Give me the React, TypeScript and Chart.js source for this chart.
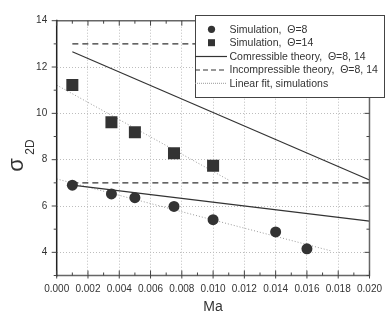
import React, { useEffect, useRef } from "react";
import { Chart, registerables } from "chart.js";
Chart.register(...registerables);

// ---- data ----
const maSim8 = [0.001, 0.0035, 0.005, 0.0075, 0.01, 0.014, 0.016];
const sigmaSim8 = [6.9, 6.52, 6.36, 5.98, 5.41, 4.88, 4.15];
const maSim14 = [0.001, 0.0035, 0.005, 0.0075, 0.01];
const sigmaSim14 = [11.22, 9.62, 9.18, 8.28, 7.74];
const maTheory = [0.001, 0.02];
const compTheory8 = [6.9, 5.35];
const compTheory14 = [12.66, 7.12];
const incompTheory8 = [7, 7];
const incompTheory14 = [13, 13];
const maFit8 = [0, 0.0175];
const fit8 = [7.17, 4.07];
const maFit14 = [0, 0.011];
const fit14 = [11.22, 7.12];
const xTicks = [0, 0.002, 0.004, 0.006, 0.008, 0.01, 0.012, 0.014, 0.016, 0.018, 0.02];
const xMinor = [0.001, 0.003, 0.005, 0.007, 0.009, 0.011, 0.013, 0.015, 0.017, 0.019];
const yTicks = [4, 6, 8, 10, 12, 14];
const yMinor = [3, 5, 7, 9, 11, 13];
const legendLabels = [
  "Simulation,  \u0398=8",
  "Simulation,  \u0398=14",
  "Comressible theory,  \u0398=8, 14",
  "Incompressible theory,  \u0398=8, 14",
  "Linear fit, simulations",
];
const xTitle = "Ma";
const yTitleMain = "\u03c3";
const yTitleSub = "2D";

const FONT = "'Liberation Sans', Arial, sans-serif";
const DARK = "#333";

const pts = (xs: number[], ys: number[]) => xs.map((x, i) => ({ x, y: ys[i] }));

const decorPlugin = {
  id: "decor",
  afterDraw(chart: any) {
    const ctx = chart.ctx as CanvasRenderingContext2D;
    const { left, right, top, bottom } = chart.chartArea;
    const xs = chart.scales.x;
    const ys = chart.scales.y;
    ctx.save();
    // frame
    ctx.lineWidth = 1.5;
    ctx.strokeStyle = "#666";
    ctx.beginPath();
    ctx.moveTo(left, top);
    ctx.lineTo(right, top);
    ctx.lineTo(right, bottom);
    ctx.lineTo(left, bottom);
    ctx.stroke();
    ctx.strokeStyle = "#222";
    ctx.beginPath();
    ctx.moveTo(left, top - 1);
    ctx.lineTo(left, bottom + 1);
    ctx.stroke();
    // ticks
    ctx.lineWidth = 1;
    ctx.strokeStyle = "#444";
    ctx.beginPath();
    xTicks.forEach((v) => {
      const p = xs.getPixelForValue(v);
      ctx.moveTo(p, bottom + 3);
      ctx.lineTo(p, bottom - 5);
      ctx.moveTo(p, top);
      ctx.lineTo(p, top + 5);
    });
    xMinor.forEach((v) => {
      const p = xs.getPixelForValue(v);
      ctx.moveTo(p, bottom);
      ctx.lineTo(p, bottom - 3);
      ctx.moveTo(p, top);
      ctx.lineTo(p, top + 3);
    });
    yTicks.forEach((v) => {
      const p = ys.getPixelForValue(v);
      ctx.moveTo(left - 5, p);
      ctx.lineTo(left, p);
      ctx.moveTo(right, p);
      ctx.lineTo(right - 5, p);
    });
    yMinor.forEach((v) => {
      const p = ys.getPixelForValue(v);
      ctx.moveTo(left - 3, p);
      ctx.lineTo(left, p);
      ctx.moveTo(right, p);
      ctx.lineTo(right - 3, p);
    });
    ctx.stroke();

    // axis titles
    ctx.fillStyle = DARK;
    ctx.font = `14px ${FONT}`;
    ctx.textAlign = "center";
    ctx.textBaseline = "middle";
    ctx.fillText(xTitle, (left + right) / 2, 307);
    ctx.save();
    ctx.rotate(-Math.PI / 2);
    ctx.font = `22px ${FONT}`;
    ctx.fillText(yTitleMain, -165, 17);
    ctx.font = `12px ${FONT}`;
    ctx.fillText(yTitleSub, -147, 31);
    ctx.restore();

    // legend
    const bx = 195, by = 15, bw = 189, bh = 82;
    ctx.fillStyle = "#fff";
    ctx.fillRect(bx, by, bw, bh);
    ctx.strokeStyle = "#444";
    ctx.lineWidth = 1;
    ctx.strokeRect(bx + 0.5, by + 0.5, bw, bh);
    const rowY = [29.3, 42.7, 56.5, 70, 83.3];
    const symX = 211.5;
    const textX = 229.5;
    // circle
    ctx.fillStyle = DARK;
    ctx.beginPath();
    ctx.arc(symX, rowY[0], 3.6, 0, Math.PI * 2);
    ctx.fill();
    // square
    ctx.fillRect(symX - 3.5, rowY[1] - 3.5, 7, 7);
    // solid
    ctx.strokeStyle = DARK;
    ctx.lineWidth = 1.2;
    ctx.beginPath();
    ctx.moveTo(bx, rowY[2]);
    ctx.lineTo(227, rowY[2]);
    ctx.stroke();
    // dashed
    ctx.setLineDash([5, 3]);
    ctx.beginPath();
    ctx.moveTo(bx, rowY[3]);
    ctx.lineTo(227, rowY[3]);
    ctx.stroke();
    // dotted
    ctx.setLineDash([1, 1]);
    ctx.strokeStyle = "#999";
    ctx.lineWidth = 1;
    ctx.beginPath();
    ctx.moveTo(bx, rowY[4]);
    ctx.lineTo(227, rowY[4]);
    ctx.stroke();
    ctx.setLineDash([]);
    ctx.fillStyle = DARK;
    ctx.font = `10.5px ${FONT}`;
    ctx.textAlign = "left";
    ctx.textBaseline = "middle";
    legendLabels.forEach((t, i) => ctx.fillText(t, textX, rowY[i] + 0.5));
    ctx.restore();
  },
};

export default function App() {
  const ref = useRef<HTMLCanvasElement>(null);
  useEffect(() => {
    const canvas = ref.current!;
    const lineDs = (data: any, color: string, width: number, dash: number[], order: number) => ({
      data,
      showLine: true,
      pointRadius: 0,
      borderColor: color,
      backgroundColor: color,
      borderWidth: width,
      borderDash: dash,
      fill: false,
      tension: 0,
      order,
    });
    const chart = new Chart(canvas, {
      type: "scatter",
      data: {
        datasets: [
          {
            data: pts(maSim8, sigmaSim8),
            pointStyle: "circle",
            pointRadius: 5.5,
            backgroundColor: DARK,
            borderColor: DARK,
            borderWidth: 0,
            showLine: false,
            order: 0,
          } as any,
          {
            data: pts(maSim14, sigmaSim14),
            pointStyle: "rect",
            pointRadius: 8.5,
            backgroundColor: DARK,
            borderColor: DARK,
            borderWidth: 0,
            showLine: false,
            order: 0,
          } as any,
          lineDs(pts(maTheory, compTheory14), DARK, 1.2, [], 2),
          lineDs(pts(maTheory, compTheory8), DARK, 1.2, [], 2),
          lineDs(pts(maTheory, incompTheory14), DARK, 1.2, [6, 4], 2),
          lineDs(pts(maTheory, incompTheory8), DARK, 1.2, [6, 4], 2),
          lineDs(pts(maFit14, fit14), "#9a9a9a", 1, [1, 2], 3),
          lineDs(pts(maFit8, fit8), "#9a9a9a", 1, [1, 2], 3),
        ],
      },
      options: {
        responsive: false,
        animation: false,
        events: [],
        layout: { padding: { left: 0, right: 19, top: 20.7, bottom: 0 } },
        plugins: { legend: { display: false }, tooltip: { enabled: false } },
        scales: {
          x: {
            type: "linear",
            min: 0,
            max: 0.02,
            afterBuildTicks: (s: any) => {
              s.ticks = xTicks.map((v) => ({ value: v }));
            },
            afterFit: (s: any) => {
              s.height = 42.5;
            },
            ticks: {
              callback: (v: any) => Number(v).toFixed(3),
              font: { size: 10, family: FONT },
              color: DARK,
              padding: 8,
              maxRotation: 0,
              autoSkip: false,
            },
            grid: { color: "#bdbdbd", lineWidth: 1, drawTicks: false },
            border: { display: false, dash: [1, 2] },
          },
          y: {
            type: "linear",
            min: 3,
            max: 14,
            afterBuildTicks: (s: any) => {
              s.ticks = yTicks.map((v) => ({ value: v }));
            },
            afterFit: (s: any) => {
              s.width = 56.7;
            },
            ticks: {
              font: { size: 10, family: FONT },
              color: DARK,
              padding: 9.5,
              autoSkip: false,
            },
            grid: { color: "#bdbdbd", lineWidth: 1, drawTicks: false },
            border: { display: false, dash: [1, 2] },
          },
        },
      },
      plugins: [decorPlugin],
    });
    return () => chart.destroy();
  }, []);
  return (
    <div style={{ position: "absolute", left: 0, top: 0, width: 390, height: 318, background: "#fff" }}>
      <canvas ref={ref} width={390} height={318} style={{ display: "block" }} />
    </div>
  );
}
